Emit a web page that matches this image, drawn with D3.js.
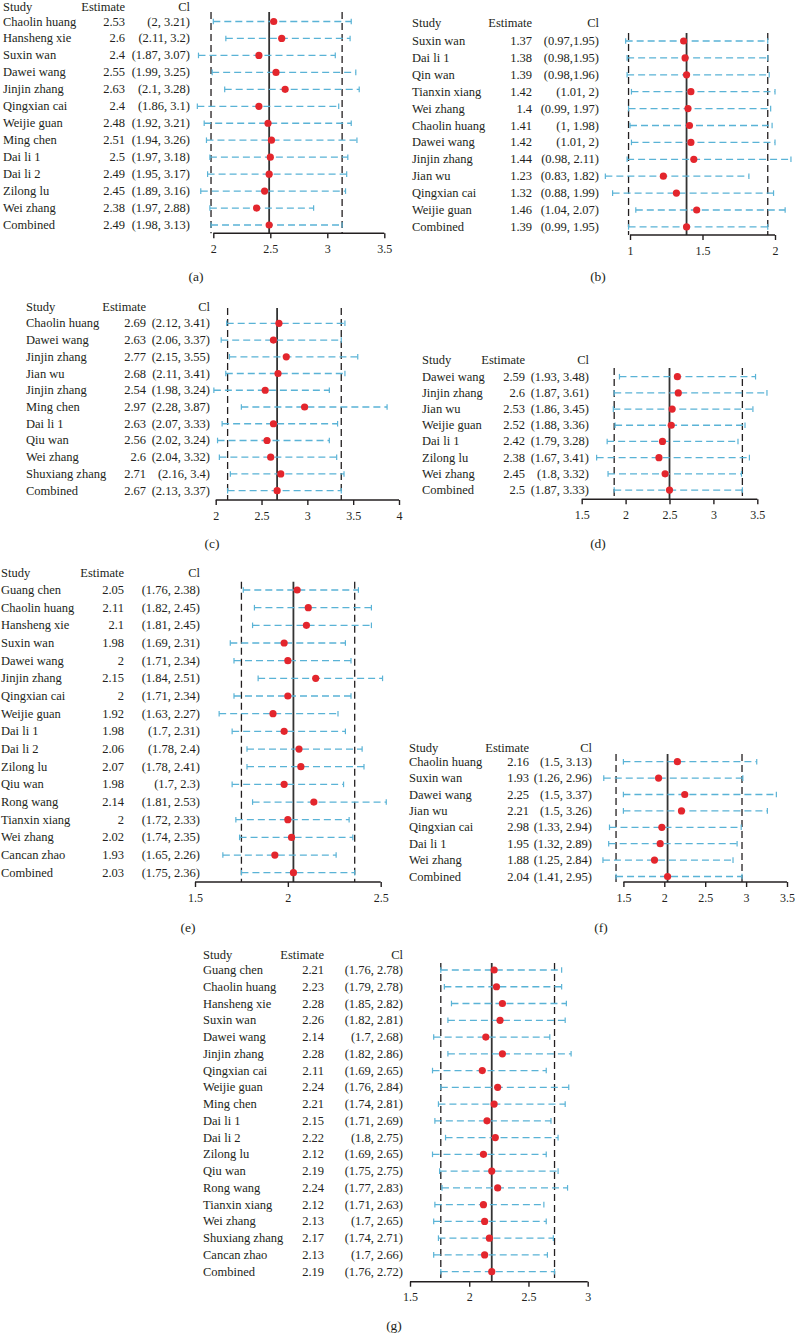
<!DOCTYPE html>
<html>
<head>
<meta charset="utf-8">
<script src="https://cdn.jsdelivr.net/npm/d3@7"></script>
<style>
  body { margin: 0; background: #fff; }
  text { font-family: "Liberation Serif", "DejaVu Serif", serif; fill: #231f20; }
</style>
</head>
<body>
<div id="chart"></div>
<script>
// ---- data ----
// (a)
const studiesA = ["Chaolin huang", "Hansheng xie", "Suxin wan", "Dawei wang", "Jinjin zhang", "Qingxian cai", "Weijie guan", "Ming chen", "Dai li 1", "Dai li 2", "Zilong lu", "Wei zhang", "Combined"];
const estA = [2.53, 2.6, 2.4, 2.55, 2.63, 2.4, 2.48, 2.51, 2.5, 2.49, 2.45, 2.38, 2.49];
const lowA = [2, 2.11, 1.87, 1.99, 2.1, 1.86, 1.92, 1.94, 1.97, 1.95, 1.89, 1.97, 1.98];
const highA = [3.21, 3.2, 3.07, 3.25, 3.28, 3.1, 3.21, 3.26, 3.18, 3.17, 3.16, 2.88, 3.13];
const ticksA = [2, 2.5, 3, 3.5];

// (b)
const studiesB = ["Suxin wan", "Dai li 1", "Qin wan", "Tianxin xiang", "Wei zhang", "Chaolin huang", "Dawei wang", "Jinjin zhang", "Jian wu", "Qingxian cai", "Weijie guan", "Combined"];
const estB = [1.37, 1.38, 1.39, 1.42, 1.4, 1.41, 1.42, 1.44, 1.23, 1.32, 1.46, 1.39];
const lowB = [0.97, 0.98, 0.98, 1.01, 0.99, 1, 1.01, 0.98, 0.83, 0.88, 1.04, 0.99];
const highB = [1.95, 1.95, 1.96, 2, 1.97, 1.98, 2, 2.11, 1.82, 1.99, 2.07, 1.95];
const ciTextB = ["(0.97,1.95)", "(0.98,1.95)", "(0.98,1.96)", "(1.01, 2)", "(0.99, 1.97)", "(1, 1.98)", "(1.01, 2)", "(0.98, 2.11)", "(0.83, 1.82)", "(0.88, 1.99)", "(1.04, 2.07)", "(0.99, 1.95)"];
const ticksB = [1, 1.5, 2];

// (c)
const studiesC = ["Chaolin huang", "Dawei wang", "Jinjin zhang", "Jian wu", "Jinjin zhang", "Ming chen", "Dai li 1", "Qiu wan", "Wei zhang", "Shuxiang zhang", "Combined"];
const estC = [2.69, 2.63, 2.77, 2.68, 2.54, 2.97, 2.63, 2.56, 2.6, 2.71, 2.67];
const lowC = [2.12, 2.06, 2.15, 2.11, 1.98, 2.28, 2.07, 2.02, 2.04, 2.16, 2.13];
const highC = [3.41, 3.37, 3.55, 3.41, 3.24, 3.87, 3.33, 3.24, 3.32, 3.4, 3.37];
const ticksC = [2, 2.5, 3, 3.5, 4];

// (d)
const studiesD = ["Dawei wang", "Jinjin zhang", "Jian wu", "Weijie guan", "Dai li 1", "Zilong lu", "Wei zhang", "Combined"];
const estD = [2.59, 2.6, 2.53, 2.52, 2.42, 2.38, 2.45, 2.5];
const lowD = [1.93, 1.87, 1.86, 1.88, 1.79, 1.67, 1.8, 1.87];
const highD = [3.48, 3.61, 3.45, 3.36, 3.28, 3.41, 3.32, 3.33];
const ticksD = [1.5, 2, 2.5, 3, 3.5];

// (e)
const studiesE = ["Guang chen", "Chaolin huang", "Hansheng xie", "Suxin wan", "Dawei wang", "Jinjin zhang", "Qingxian cai", "Weijie guan", "Dai li 1", "Dai li 2", "Zilong lu", "Qiu wan", "Rong wang", "Tianxin xiang", "Wei zhang", "Cancan zhao", "Combined"];
const estE = [2.05, 2.11, 2.1, 1.98, 2, 2.15, 2, 1.92, 1.98, 2.06, 2.07, 1.98, 2.14, 2, 2.02, 1.93, 2.03];
const lowE = [1.76, 1.82, 1.81, 1.69, 1.71, 1.84, 1.71, 1.63, 1.7, 1.78, 1.78, 1.7, 1.81, 1.72, 1.74, 1.65, 1.75];
const highE = [2.38, 2.45, 2.45, 2.31, 2.34, 2.51, 2.34, 2.27, 2.31, 2.4, 2.41, 2.3, 2.53, 2.33, 2.35, 2.26, 2.36];
const ticksE = [1.5, 2, 2.5];

// (f) -- the printed estimate for Qingxian cai is 2.98, its dot sits near 1.97
const studiesF = ["Chaolin huang", "Suxin wan", "Dawei wang", "Jian wu", "Qingxian cai", "Dai li 1", "Wei zhang", "Combined"];
const estF = [2.16, 1.93, 2.25, 2.21, 1.97, 1.95, 1.88, 2.04];
const estTextF = ["2.16", "1.93", "2.25", "2.21", "2.98", "1.95", "1.88", "2.04"];
const lowF = [1.5, 1.26, 1.5, 1.5, 1.33, 1.32, 1.25, 1.41];
const highF = [3.13, 2.96, 3.37, 3.26, 2.94, 2.89, 2.84, 2.95];
const ticksF = [1.5, 2, 2.5, 3, 3.5];

// (g)
const studiesG = ["Guang chen", "Chaolin huang", "Hansheng xie", "Suxin wan", "Dawei wang", "Jinjin zhang", "Qingxian cai", "Weijie guan", "Ming chen", "Dai li 1", "Dai li 2", "Zilong lu", "Qiu wan", "Rong wang", "Tianxin xiang", "Wei zhang", "Shuxiang zhang", "Cancan zhao", "Combined"];
const estG = [2.21, 2.23, 2.28, 2.26, 2.14, 2.28, 2.11, 2.24, 2.21, 2.15, 2.22, 2.12, 2.19, 2.24, 2.12, 2.13, 2.17, 2.13, 2.19];
const lowG = [1.76, 1.79, 1.85, 1.82, 1.7, 1.82, 1.69, 1.76, 1.74, 1.71, 1.8, 1.69, 1.75, 1.77, 1.71, 1.7, 1.74, 1.7, 1.76];
const highG = [2.78, 2.78, 2.82, 2.81, 2.68, 2.86, 2.65, 2.84, 2.81, 2.69, 2.75, 2.65, 2.75, 2.83, 2.63, 2.65, 2.71, 2.66, 2.72];
const ticksG = [1.5, 2, 2.5, 3];

// ---- layout of each panel on the page ----
const panels = [
  { tag: "(a)", names: studiesA, est: estA, lo: lowA, hi: highA, ticks: ticksA,
    range: [213.3, 384.3], nameX: 3, estX: 125, ciX: 190, headY: 6.5, row0: 21.5, step: 16.96,
    axisY: 233.3, top: 12, tagX: 196, tagY: 281 },
  { tag: "(b)", names: studiesB, est: estB, lo: lowB, hi: highB, ticks: ticksB, ciText: ciTextB,
    range: [630, 775], nameX: 412, estX: 532, ciX: 599, headY: 22.7, row0: 41, step: 16.9,
    axisY: 235, top: 33, tagX: 598, tagY: 281 },
  { tag: "(c)", names: studiesC, est: estC, lo: lowC, hi: highC, ticks: ticksC,
    range: [215.7, 399], nameX: 26, estX: 146, ciX: 210, headY: 306.7, row0: 323.3, step: 16.74,
    axisY: 500, top: 308, tagX: 212, tagY: 548 },
  { tag: "(d)", names: studiesD, est: estD, lo: lowD, hi: highD, ticks: ticksD,
    range: [581.7, 757.3], nameX: 422, estX: 525, ciX: 589, headY: 360, row0: 376.7, step: 16.19,
    axisY: 499.3, top: 368, tagX: 598, tagY: 548 },
  { tag: "(e)", names: studiesE, est: estE, lo: lowE, hi: highE, ticks: ticksE,
    range: [195, 380.7], nameX: 1, estX: 124, ciX: 200, headY: 573.3, row0: 590, step: 17.67,
    axisY: 882, top: 581.7, tagX: 188, tagY: 932 },
  { tag: "(f)", names: studiesF, est: estF, lo: lowF, hi: highF, ticks: ticksF, estText: estTextF,
    range: [623.4, 787], nameX: 409, estX: 529, ciX: 592, headY: 748.3, row0: 761.7, step: 16.4,
    axisY: 882, top: 754, tagX: 601, tagY: 932 },
  { tag: "(g)", names: studiesG, est: estG, lo: lowG, hi: highG, ticks: ticksG,
    range: [410, 587.7], nameX: 203, estX: 324, ciX: 403, headY: 955, row0: 970, step: 16.76,
    axisY: 1281.7, top: 963, tagX: 394, tagY: 1330 }
];

const red = "#e3262d", blue = "#5ab3d6", ink = "#231f20";
const fs = "12.5px";

const svg = d3.select("#chart")
  .append("svg")
  .attr("width", 795)
  .attr("height", 1334);

for (let p of panels) {
  const g = svg.append("g");
  const rows = p.names.map((n, i) => ({
    name: n, est: p.est[i], lo: p.lo[i], hi: p.hi[i],
    estLabel: p.estText ? p.estText[i] : String(p.est[i]),
    ciLabel: p.ciText ? p.ciText[i] : "(" + p.lo[i] + ", " + p.hi[i] + ")"
  }));

  const x = d3.scaleLinear()
    .domain([p.ticks[0], p.ticks[p.ticks.length - 1]])
    .range(p.range);
  const y = d3.scalePoint()
    .domain(d3.range(rows.length))
    .range([p.row0, p.row0 + p.step * (rows.length - 1)]);

  // header
  const head = g.append("g").style("font-size", fs);
  head.append("text").attr("x", p.nameX).attr("y", p.headY + 4).text("Study");
  head.append("text").attr("x", p.estX).attr("y", p.headY + 4).attr("text-anchor", "end").text("Estimate");
  head.append("text").attr("x", p.ciX).attr("y", p.headY + 4).attr("text-anchor", "end").text("Cl");

  // table columns
  const tbl = g.append("g").style("font-size", fs);
  tbl.selectAll(".nm").data(rows).join("text")
    .attr("x", p.nameX).attr("y", (d, i) => y(i) + 4).text(d => d.name);
  tbl.selectAll(".es").data(rows).join("text")
    .attr("x", p.estX).attr("y", (d, i) => y(i) + 4).attr("text-anchor", "end").text(d => d.estLabel);
  tbl.selectAll(".ci").data(rows).join("text")
    .attr("x", p.ciX).attr("y", (d, i) => y(i) + 4).attr("text-anchor", "end").text(d => d.ciLabel);

  // reference lines from the combined row
  const comb = rows[rows.length - 1];
  g.append("line")
    .attr("x1", x(comb.est)).attr("x2", x(comb.est))
    .attr("y1", p.top).attr("y2", p.axisY)
    .attr("stroke", "#333").attr("stroke-width", 1.8);
  g.selectAll(".bound").data([comb.lo, comb.hi]).join("line")
    .attr("x1", d => x(d)).attr("x2", d => x(d))
    .attr("y1", p.top).attr("y2", p.axisY)
    .attr("stroke", ink).attr("stroke-width", 1.3)
    .attr("stroke-dasharray", "7,4");

  // whiskers
  g.selectAll(".wh").data(rows).join("line")
    .attr("x1", d => x(d.lo)).attr("x2", d => x(d.hi))
    .attr("y1", (d, i) => y(i)).attr("y2", (d, i) => y(i))
    .attr("stroke", blue).attr("stroke-width", 1.3)
    .attr("stroke-dasharray", "7,4");
  const caps = rows.flatMap((d, i) => [{ v: d.lo, i }, { v: d.hi, i }]);
  g.selectAll(".cap").data(caps).join("line")
    .attr("x1", d => x(d.v)).attr("x2", d => x(d.v))
    .attr("y1", d => y(d.i) - 2.8).attr("y2", d => y(d.i) + 2.8)
    .attr("stroke", blue).attr("stroke-width", 1.2);

  // point estimates
  g.selectAll(".dot").data(rows).join("circle")
    .attr("cx", d => x(d.est)).attr("cy", (d, i) => y(i))
    .attr("r", 3.6).attr("fill", red);

  // x axis
  const ax = g.append("g")
    .attr("transform", `translate(0, ${p.axisY})`)
    .call(d3.axisBottom(x).tickValues(p.ticks).tickSize(5).tickPadding(6).tickFormat(d3.format("")));
  ax.selectAll("path, line").attr("stroke", ink).attr("stroke-width", 1.4);
  ax.select(".domain").attr("d", `M${p.range[0]},0H${p.range[1]}`);
  ax.selectAll("text").style("font-size", "12px").style("font-family", "Liberation Serif, serif").attr("fill", ink);

  // panel tag
  g.append("text")
    .attr("x", p.tagX).attr("y", p.tagY)
    .attr("text-anchor", "middle")
    .style("font-size", "13.5px")
    .text(p.tag);
}
</script>
</body>
</html>
